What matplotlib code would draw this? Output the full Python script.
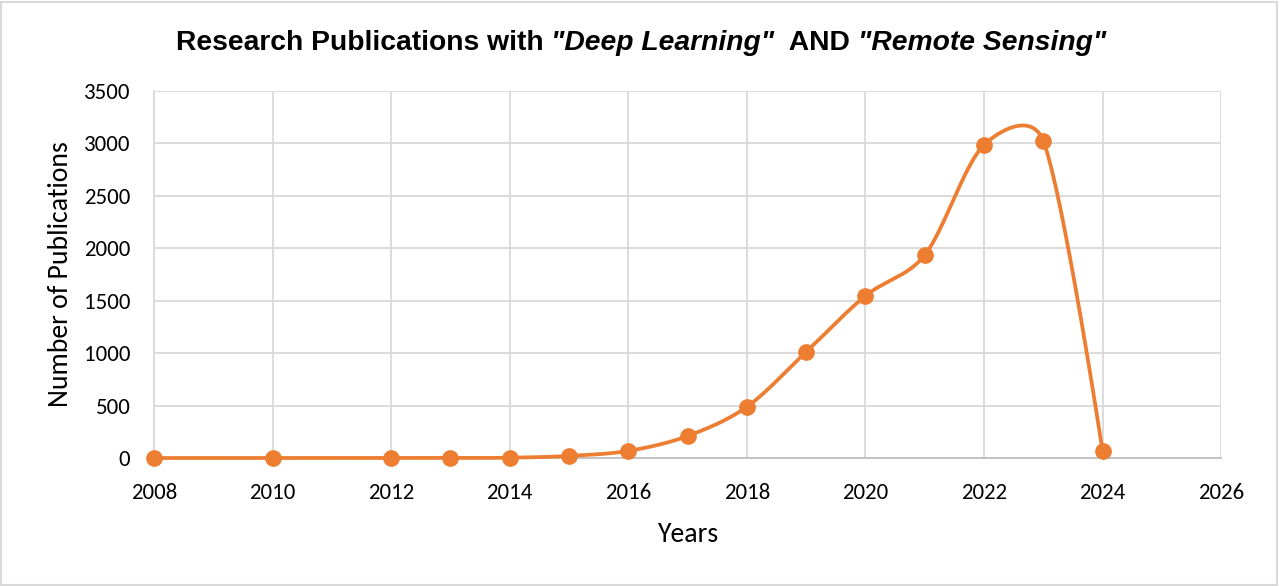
import numpy as np
import matplotlib
matplotlib.use("Agg")
import matplotlib.pyplot as plt
from matplotlib.patches import Rectangle
from matplotlib import font_manager

years = [2008, 2010, 2012, 2013, 2014, 2015, 2016, 2017, 2018, 2019, 2020, 2021, 2022, 2023, 2024]
publications = [0, 0, 0, 0, 3, 20, 68, 210, 488, 1012, 1546, 1935, 2985, 3025, 67]
x_ticks = [2008, 2010, 2012, 2014, 2016, 2018, 2020, 2022, 2024, 2026]
y_ticks = [0, 500, 1000, 1500, 2000, 2500, 3000, 3500]
title_parts = [("Research Publications with ", "normal"), ('"Deep Learning"', "italic"),
               ("  AND ", "normal"), ('"Remote Sensing"', "italic")]

ORANGE = "#ED7D31"
GRID = "#D9D9D9"

def pick(names):
    avail = {f.name for f in font_manager.fontManager.ttflist}
    for n in names:
        if n in avail:
            return n
    return "DejaVu Sans"

body_font = pick(["Carlito", "Lato", "Open Sans"])
title_font = pick(["Liberation Sans Narrow", "Liberation Sans"])

fig = plt.figure(figsize=(12.8, 5.86), dpi=100)
ax = fig.add_axes([0.1203, 0.2184, 0.954 - 0.1203, 0.8447 - 0.2184])
ax.set_xlim(2008, 2026)
ax.set_ylim(0, 3500)

# Smoothed line (Bezier through the points, tangents scaled by neighbouring segment lengths)
sx = 59.3
sy = 52.4 / 500.0
P = np.column_stack([np.array(years, float) * sx, np.array(publications, float) * sy])
n = len(P)
seglen = np.hypot(*np.diff(P, axis=0).T)

curve = []
t = np.linspace(0, 1, 60)
for i in range(n - 1):
    p0, p3 = P[i], P[i + 1]
    if 0 < i < n - 1:
        f0 = min(1.0, np.sqrt(2 * seglen[i] / (seglen[i - 1] + seglen[i])))
        c1 = p0 + (P[i + 1] - P[i - 1]) / 6.0 * f0
    else:
        c1 = p0
    j = i + 1
    if 0 < j < n - 1:
        f1 = min(1.0, np.sqrt(2 * seglen[j - 1] / (seglen[j - 1] + seglen[j])))
        c2 = p3 - (P[j + 1] - P[j - 1]) / 6.0 * f1
    else:
        c2 = p3
    seg = ((1 - t) ** 3)[:, None] * p0 + (3 * (1 - t) ** 2 * t)[:, None] * c1 + \
          (3 * (1 - t) * t ** 2)[:, None] * c2 + (t ** 3)[:, None] * p3
    curve.append(seg if i == 0 else seg[1:])
curve = np.vstack(curve)
ax.plot(curve[:, 0] / sx, curve[:, 1] / sy, color=ORANGE, lw=2.7, zorder=3, clip_on=False,
        solid_capstyle="round")
ax.plot(years, publications, "o", color=ORANGE, ms=11, zorder=4, clip_on=False)

ax.set_xticks(x_ticks)
ax.set_yticks(y_ticks)
ax.grid(True, color=GRID, lw=1.3)
ax.set_axisbelow(True)
for s in ["top", "right"]:
    ax.spines[s].set_visible(False)
ax.spines["left"].set_color(GRID)
ax.spines["left"].set_linewidth(1.3)
ax.spines["bottom"].set_color("#BFBFBF")
ax.spines["bottom"].set_linewidth(1.3)
ax.tick_params(length=0, labelsize=16.5, colors="black")
ax.tick_params(axis="x", pad=18)
ax.tick_params(axis="y", pad=17)
for lab in ax.get_xticklabels() + ax.get_yticklabels():
    lab.set_fontfamily(body_font)
ax.set_xlabel("Years", fontsize=20, fontfamily=body_font, labelpad=14)
ax.set_ylabel("Number of Publications", fontsize=20, fontfamily=body_font, labelpad=8)

# Title with mixed styles
fig.canvas.draw()
renderer = fig.canvas.get_renderer()
texts = []
for s, style in title_parts:
    tt = fig.text(0, 0.926, s, fontsize=20.3, fontweight="bold", style=style,
                  fontfamily=title_font, ha="left", va="center")
    texts.append(tt)
widths = [tt.get_window_extent(renderer).width for tt in texts]
total = sum(widths)
x0 = (641 - total / 2) / 1280.0
for tt, w in zip(texts, widths):
    tt.set_x(x0)
    x0 += w / 1280.0

fig.patches.append(Rectangle((0.001, 0.002), 0.997, 0.995, transform=fig.transFigure,
                             fill=False, edgecolor="#D9D9D9", lw=1.5))
fig.savefig("out.png", dpi=100, facecolor="white")
